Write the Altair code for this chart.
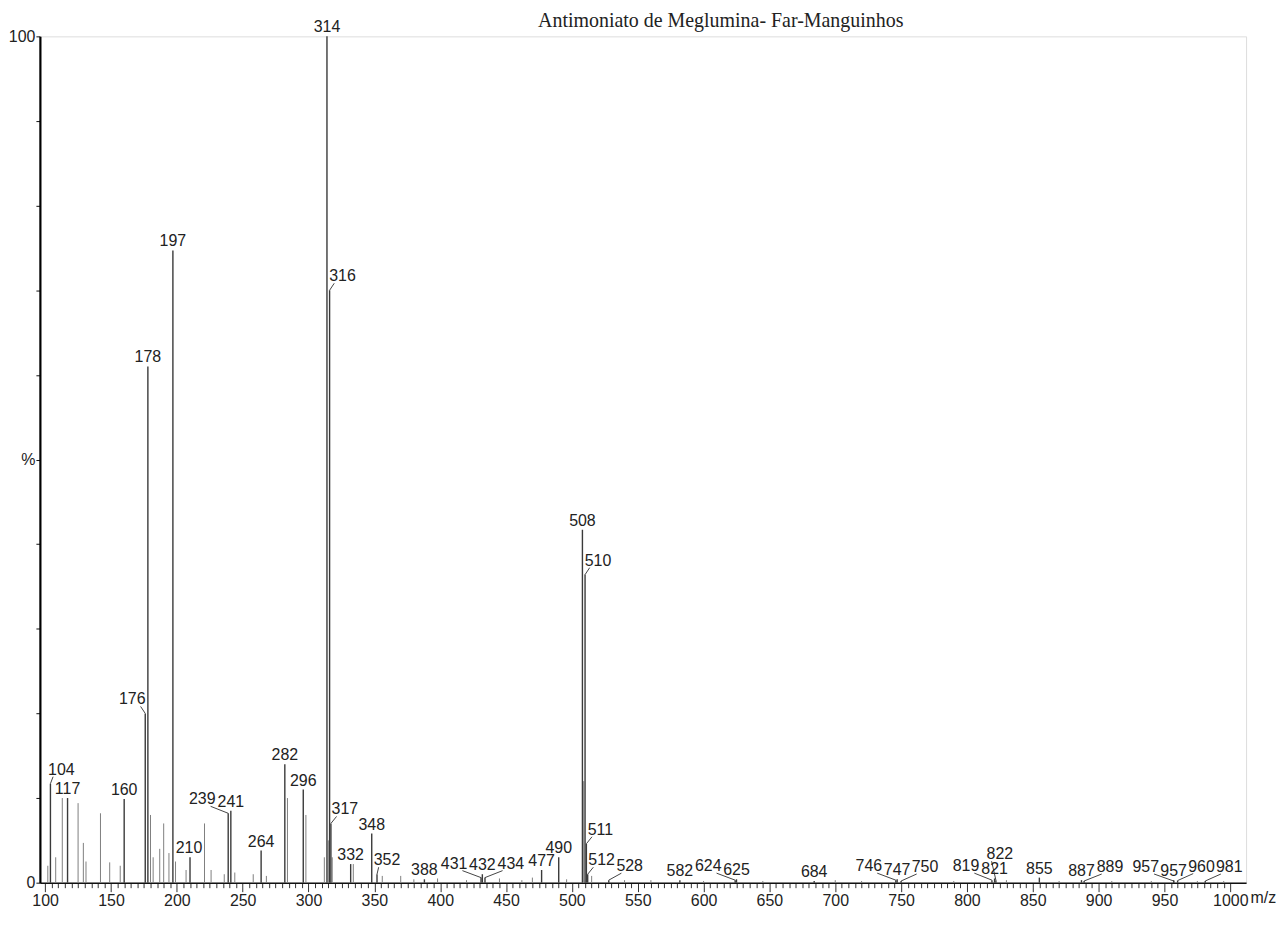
import altair as alt
import pandas as pd

TITLE = "Antimoniato de Meglumina- Far-Manguinhos"

# labelled peaks (m/z, relative intensity %)
peak_mz = [104, 117, 160, 176, 178, 197, 210, 239, 241, 264, 282, 296, 314, 316, 317,
           332, 348, 352, 388, 431, 432, 434, 477, 490, 508, 510, 511, 512, 528, 582,
           624, 625, 684, 746, 747, 750, 819, 821, 822, 855, 887, 889, 957, 957, 960, 981]
peak_int = [11.7, 10.0, 9.9, 20.0, 61.0, 74.7, 3.0, 8.2, 8.5, 3.8, 14.0, 11.0, 100.0, 70.0, 7.0,
            2.2, 5.8, 1.0, 0.4, 0.6, 1.0, 0.6, 1.5, 3.0, 41.7, 36.4, 4.6, 1.0, 0.3, 0.3,
            0.3, 0.4, 0.2, 0.3, 0.4, 0.2, 0.3, 0.5, 0.3, 0.6, 0.3, 0.2, 0.3, 0.2, 0.25, 0.2]

# unlabelled minor peaks
minor_mz = [102, 108, 113, 125, 129, 131, 142, 149, 157, 180, 182, 187, 190, 194, 199,
            207, 221, 226, 236, 244, 258, 268, 284, 298, 312, 315, 318, 334, 356, 370,
            380, 398, 420, 445, 462, 470, 496, 509, 515, 540, 560, 600, 645, 700, 720,
            790, 830, 870, 910, 940, 975, 995]
minor_int = [2.0, 3.0, 10.0, 9.4, 4.7, 2.5, 8.2, 2.4, 2.0, 8.0, 3.0, 4.0, 7.0, 3.5, 2.5,
             1.5, 7.0, 1.5, 1.0, 1.2, 1.0, 0.8, 10.0, 8.0, 3.0, 5.0, 3.0, 2.2, 0.8, 0.8,
             0.4, 0.5, 0.3, 0.5, 0.3, 0.6, 0.4, 12.0, 0.8, 0.3, 0.3, 0.2, 0.2, 0.3, 0.2,
             0.2, 0.3, 0.2, 0.2, 0.2, 0.2, 0.2]

W, H = 1210, 849
XMIN, XMAX = 96, 1012
sx = W / (XMAX - XMIN)
sy = H / 100.0
FS = 16
CW = 0.556 * FS
CH = 0.716 * FS
GAP = 4
RAISE = 5
M = 1.5
VM = 1

# simple label layout (avoid overlaps with other labels and taller peak lines)
all_lines = [((m - XMIN) * sx, v * sy) for m, v in zip(peak_mz + minor_mz, peak_int + minor_int)]
boxes = []
lab_rows, lead_rows = [], []
order = sorted(range(len(peak_mz)), key=lambda i: (-peak_int[i], peak_mz[i], i))
for i in order:
    text = str(peak_mz[i])
    px = (peak_mz[i] - XMIN) * sx
    py = peak_int[i] * sy
    w = len(text) * CW
    best = None
    for dy in (0, 12, 24, 36):
        found = None
        for dx in range(0, 240):
            for s in ((1,) if dx == 0 else (1, -1)):
                cx = px + s * dx
                b0 = py + GAP + dy + (RAISE if dx > 3 else 0)
                x0, x1, y0, y1 = cx - w / 2, cx + w / 2, b0, b0 + CH
                if x0 < 8 or x1 > W + 45:
                    continue
                if any(x0 - M < lx < x1 + M and ly > y0 - 1 for lx, ly in all_lines):
                    continue
                if any(x0 < bx1 + 1 and x1 > bx0 - 1 and y0 < by1 + VM and y1 > by0 - VM
                       for bx0, bx1, by0, by1 in boxes):
                    continue
                found = (dx, s, cx, b0)
                break
            if found:
                break
        if found:
            cost = found[0] + 4 * dy
            if best is None or cost < best[0]:
                best = (cost,) + found
    _, dx, s, cx, b0 = best
    boxes.append((cx - w / 2, cx + w / 2, b0, b0 + CH))
    lab_rows.append({"x": cx / sx + XMIN, "y": b0 / sy, "t": text})
    if dx > 3:
        ex = cx - s * (w / 2 - 5)
        lead_rows.append({"x": peak_mz[i], "y": peak_int[i],
                          "x2": ex / sx + XMIN, "y2": (b0 - 2) / sy})

peaks = pd.DataFrame({"mz": peak_mz, "int": peak_int, "zero": 0})
minors = pd.DataFrame({"mz": minor_mz, "int": minor_int, "zero": 0})
labels = pd.DataFrame(lab_rows)
leads = pd.DataFrame(lead_rows)

xs = alt.Scale(domain=[XMIN, XMAX], nice=False, zero=False)
ys = alt.Scale(domain=[0, 100], nice=False)

xaxis = alt.Axis(
    values=list(range(100, 1001, 5)),
    format="d",
    labelExpr="datum.value % 50 === 0 ? datum.label : ''",
    tickSize={"condition": {"test": "datum.value % 50 === 0", "value": 9},
              "value": 5},
    labelOverlap=False, labelFlush=False, labelBound=False,
    labelFont="Liberation Sans", labelFontSize=16, labelColor="#222",
    labelPadding=1, tickColor="#333", domainColor="#111", domainWidth=1.5,
    grid=False, title="m/z", titleX=W + 4, titleY=20, titleAlign="left",
    titleBaseline="alphabetic", titleFont="Liberation Sans", titleFontSize=16,
    titleFontWeight="normal", titleColor="#222", titleAngle=0,
)
yaxis = alt.Axis(
    values=list(range(0, 101, 10)),
    labelExpr="datum.value === 100 ? '100' : (datum.value === 50 ? '%' : (datum.value === 0 ? '0' : ''))",
    labelOverlap=False, labelFont="Liberation Sans", labelFontSize=16, labelColor="#222",
    labelPadding=1, tickSize=4, tickColor="#111", domainColor="#000", domainWidth=2.2,
    grid=False, title=None,
)

def xenc(field):
    return alt.X(field, scale=xs, axis=xaxis)

def yenc(field):
    return alt.Y(field, scale=ys, axis=yaxis)

minor_layer = alt.Chart(minors).mark_rule(color="#808080", strokeWidth=1).encode(
    x=xenc("mz:Q"), y=yenc("int:Q"), y2="zero:Q",
)
peak_layer = alt.Chart(peaks).mark_rule(color="#3a3a3a", strokeWidth=1.4).encode(
    x=xenc("mz:Q"), y=yenc("int:Q"), y2="zero:Q",
)
lead_layer = alt.Chart(leads).mark_rule(color="#444", strokeWidth=1).encode(
    x=xenc("x:Q"), y=yenc("y:Q"), x2="x2:Q", y2="y2:Q",
)
text_layer = alt.Chart(labels).mark_text(
    align="center", baseline="alphabetic", font="Liberation Sans", fontSize=FS, color="#222"
).encode(
    x=xenc("x:Q"), y=yenc("y:Q"), text="t:N",
)

chart = alt.layer(minor_layer, peak_layer, lead_layer, text_layer).properties(
    width=W, height=H,
    title=alt.TitleParams(TITLE, font="Liberation Serif", fontSize=20, fontWeight="normal",
                          color="#222", anchor="middle", dx=78, offset=-12, frame="group"),
    autosize=alt.AutoSizeParams(type="none"),
    padding={"left": 32, "top": 27, "right": 30, "bottom": 40},
).configure_view(stroke=None).configure(background="white")

chart.save("out.html", embed_options={"renderer": "svg", "actions": False})
